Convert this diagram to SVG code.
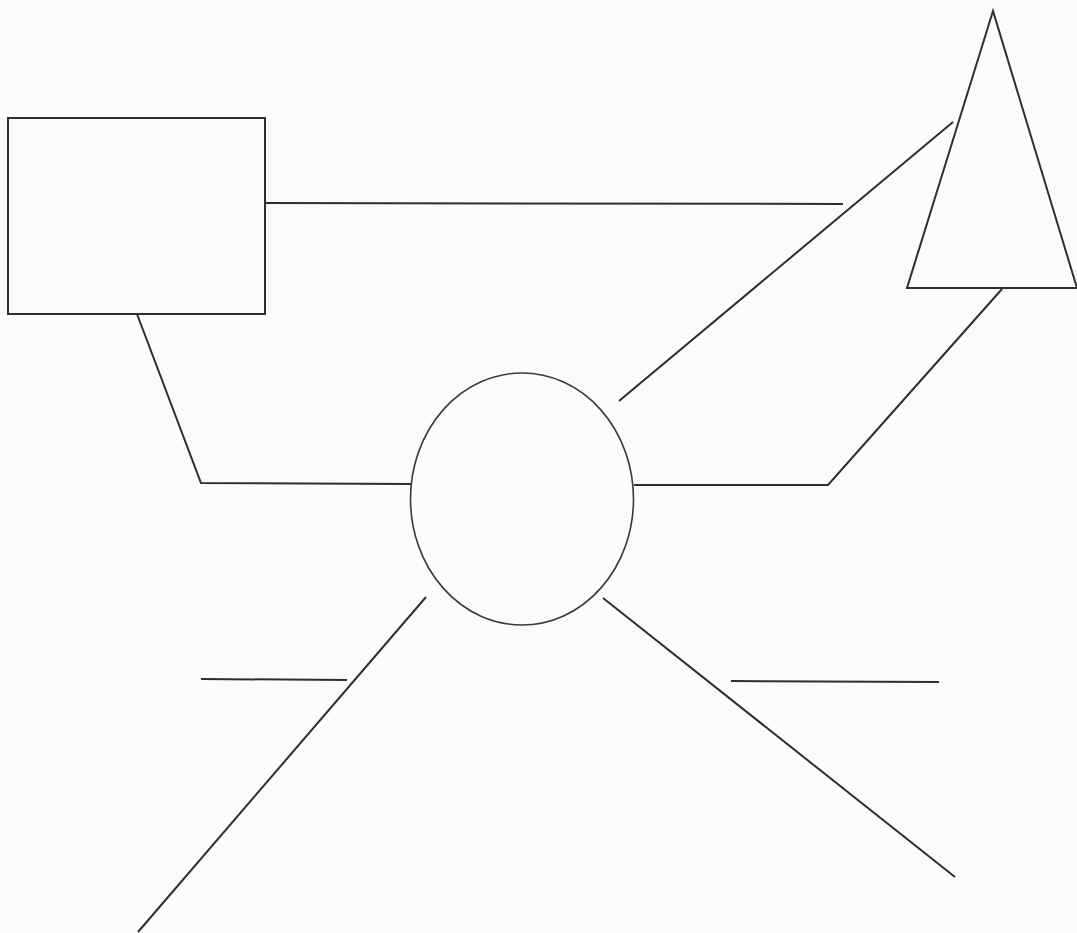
<svg xmlns="http://www.w3.org/2000/svg" width="1077" height="933" viewBox="0 0 1077 933">
<style>
.s{fill:none;stroke:#2e2e2e;stroke-width:2;stroke-linejoin:miter;stroke-linecap:butt}
.n{fill:#fafcfe;stroke:#2e2e2e;stroke-width:2}
.e{fill:#fafcfe;stroke:#3a3a3a;stroke-width:1.6}
</style>
<rect x="0" y="0" width="1077" height="933" fill="#f9fbfd"/>
<g id="connectors">
<line class="s" x1="265" y1="203" x2="843" y2="204"/>
<line class="s" x1="953" y1="122" x2="619" y2="401"/>
<polyline class="s" points="1002,289 828,485 634,485"/>
<polyline class="s" points="137,314 201,483 411,484"/>
<line class="s" x1="426" y1="597" x2="138" y2="932"/>
<line class="s" x1="201" y1="679" x2="347" y2="680"/>
<line class="s" x1="603" y1="598" x2="955" y2="877"/>
<line class="s" x1="731" y1="681" x2="939" y2="682"/>
</g>
<g id="rectangle"><rect class="n" x="8" y="118" width="257" height="196"/></g>
<g id="triangle"><polygon class="n" points="993,11 907,288 1077,288"/></g>
<g id="ellipse"><ellipse class="e" cx="522" cy="499" rx="111.5" ry="126"/></g>
</svg>
